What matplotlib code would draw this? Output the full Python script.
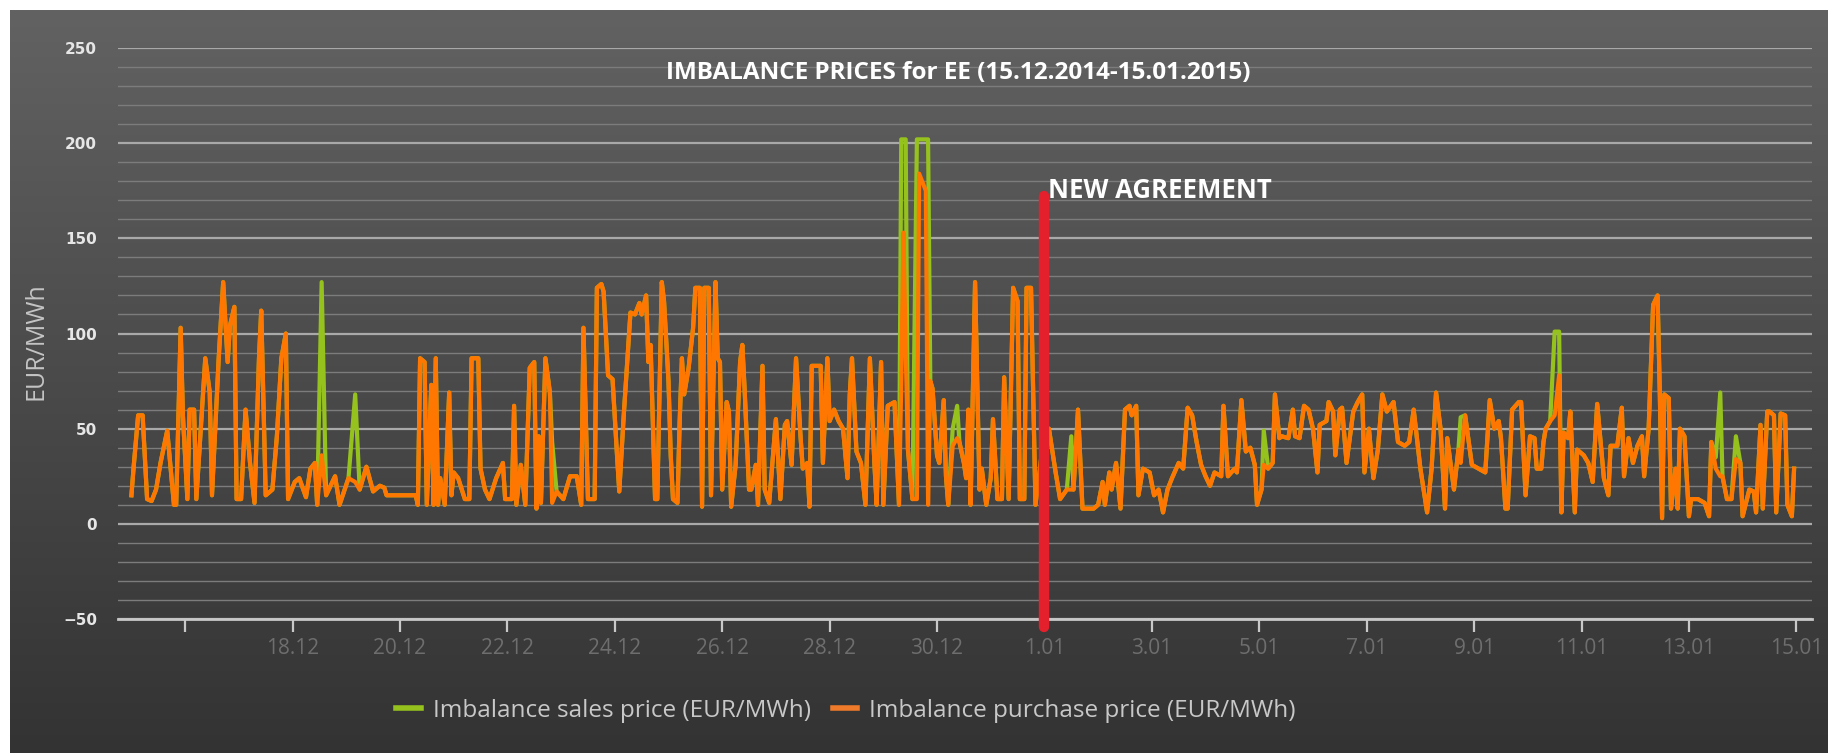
import matplotlib
matplotlib.use("Agg")
import matplotlib.pyplot as plt
import matplotlib.transforms as mtransforms
from matplotlib.colors import LinearSegmentedColormap
from matplotlib.lines import Line2D
from matplotlib.ticker import MultipleLocator
import numpy as np

# hours since 15.12.2014 00:00 (EUR/MWh)
hours = [
    0, 1, 3, 5, 7, 9, 11, 13, 16, 19, 20, 22, 23, 25, 26, 28, 29, 33, 35, 36,
    39, 41, 43, 44, 46, 47, 49, 51, 53, 55, 57, 58, 60, 63, 65, 67, 69, 70, 73, 75,
    78, 80, 82, 83, 85, 87, 91, 93, 97, 100, 102, 105, 108, 111, 113, 114, 127,
    128, 129, 131, 132, 134, 135, 136, 137, 138, 140, 142, 143, 144, 146, 149, 151, 152, 155,
    156, 158, 160, 163, 166, 167, 170, 171, 172, 174, 176, 178, 180, 181, 182, 183, 185, 187,
    188, 190, 193, 196, 199, 201, 202, 204, 207, 208, 210, 211, 213, 215, 217, 218, 220, 223,
    225, 227, 228, 230, 231, 232, 234, 235, 237, 238, 240, 241, 242, 244,
    245, 246, 247, 249, 251, 252, 254, 255, 256, 258, 259, 261, 262, 263, 264, 266, 267, 268,
    270, 272, 273, 274, 276, 277, 279, 280, 281, 282, 283, 285, 288, 290, 292, 293, 295, 297,
    299, 300, 302, 303, 304, 308, 309, 311, 312, 314, 316, 318, 320, 321, 322, 324, 326, 328,
    330, 332, 333, 335, 336, 338, 341, 343, 344, 345, 346, 347, 349, 351, 352, 355, 356, 357,
    358, 360, 361, 363, 364, 365, 367, 369,
    370, 372, 373, 374, 375, 377, 379, 380, 382, 384, 385, 387, 389, 390, 392, 394, 396, 397,
    399, 400, 402, 404, 406, 408, 410, 413, 415, 418, 420, 421, 423, 425, 430, 432, 434, 435,
    437, 438, 440, 442, 444, 446, 447, 449, 450, 452, 455, 457, 459, 461, 463, 465, 468, 470,
    472, 474, 476, 478, 480, 482, 484, 487, 488, 490, 493, 494, 496, 498, 500, 502, 503,
    505, 506, 508, 510, 511, 513, 514, 517, 519, 520, 522, 524, 526, 528, 530, 531, 534, 535,
    537, 538, 540, 541, 543, 546, 548, 550, 551, 553, 555, 557, 559, 561, 564, 566, 569, 571,
    573, 576, 579, 581, 583, 585, 587, 588, 591, 593, 594, 596, 599, 602, 605, 607, 609, 611,
    612, 614, 615, 617, 620, 621,
    623, 625, 627, 628, 630, 631, 632, 634, 636, 638, 639, 640, 642, 643, 645, 646, 649, 651,
    653, 655, 656, 658, 660, 661, 664, 666, 667, 669, 671, 673, 675, 676, 678, 680, 682, 683,
    684, 685, 687, 688, 690, 691, 692, 694, 696, 697, 700, 703, 705, 706, 708, 710, 711, 713,
    715, 717, 719, 720, 723, 725, 726, 728, 729, 731, 732, 734, 735, 737, 739, 740, 742, 743,
]
purchase = [
    15, 30, 57, 57, 13, 12, 18, 32, 49, 10, 10, 103, 57, 13, 60, 60, 13, 87, 69, 15,
    87, 127, 85, 104, 114, 13, 13, 60, 32, 11, 87, 112, 15, 18, 46, 87, 100, 13, 22, 24,
    14, 29, 32, 10, 36, 15, 25, 10, 24, 22, 18, 30, 17, 20, 19, 15, 15,
    10, 87, 85, 10, 73, 10, 87, 10, 24, 10, 69, 15, 27, 24, 13, 13, 87, 87,
    29, 18, 13, 24, 32, 13, 13, 62, 10, 31, 10, 82, 85, 8, 46, 11, 87, 69,
    11, 17, 13, 25, 25, 10, 103, 13, 13, 124, 126, 122, 78, 76, 36, 17, 57, 111,
    110, 116, 110, 120, 85, 94, 13, 13, 127, 117, 75, 36, 13, 11,
    54, 87, 68, 82, 103, 124, 124, 9, 124, 124, 15, 127, 87, 85, 18, 64, 59, 9,
    31, 85, 94, 71, 18, 18, 31, 10, 46, 83, 18, 11, 55, 13, 52, 54, 31, 87,
    46, 29, 32, 9, 83, 83, 32, 87, 54, 60, 54, 50, 24, 68, 87, 38, 32, 10,
    87, 32, 10, 85, 10, 62, 64, 10, 73, 153, 90, 39, 13, 13, 184, 175, 10, 75,
    71, 36, 32, 65, 25, 10, 41, 45,
    43, 32, 24, 60, 10, 127, 18, 29, 10, 24, 55, 13, 13, 77, 13, 124, 117, 13,
    13, 124, 124, 10, 29, 50, 50, 27, 13, 18, 18, 18, 60, 8, 8, 10, 22, 10,
    27, 18, 32, 8, 60, 62, 57, 62, 15, 29, 27, 15, 18, 6, 18, 24, 32, 29,
    61, 57, 43, 31, 25, 20, 27, 25, 62, 25, 29, 27, 65, 38, 40, 31, 10,
    18, 31, 29, 32, 68, 45, 46, 45, 60, 46, 45, 62, 60, 50, 27, 52, 54, 64,
    59, 36, 60, 61, 32, 59, 64, 68, 27, 50, 24, 39, 68, 59, 64, 43, 41, 43,
    60, 29, 6, 29, 69, 50, 8, 45, 18, 39, 32, 57, 31, 29, 27, 65, 50, 54,
    45, 8, 8, 60, 64, 64,
    15, 46, 45, 29, 29, 43, 50, 54, 57, 78, 6, 48, 45, 59, 6, 39, 36, 32,
    22, 63, 50, 24, 15, 41, 41, 61, 25, 45, 32, 41, 46, 25, 50, 115, 120, 68,
    3, 68, 66, 8, 29, 8, 50, 46, 4, 13, 13, 11, 4, 43, 29, 25, 25, 13,
    13, 34, 32, 4, 18, 17, 6, 52, 8, 59, 59, 57, 6, 58, 57, 10, 4, 29,
]
# hours where the sales price differs from the purchase price
sales_hours = [85, 100, 188, 344, 345, 346, 351, 352, 355, 356, 367, 369,
               420, 506, 594, 636, 638, 708, 710, 717]
sales_values = [127, 68, 43, 202, 202, 202, 202, 202, 202, 202, 50, 62,
                46, 49, 56, 101, 101, 35, 69, 46]

tick_hours = [24, 72, 120, 168, 216, 264, 312, 360, 408, 456, 504, 552, 600, 648, 696, 744]
tick_labels = ["", "18.12", "20.12", "22.12", "24.12", "26.12", "28.12", "30.12",
               "1.01", "3.01", "5.01", "7.01", "9.01", "11.01", "13.01", "15.01"]

agreement_hour = 408

sales = list(purchase)
for h, v in zip(sales_hours, sales_values):
    sales[hours.index(h)] = v

W, H = 1828, 753
fig = plt.figure(figsize=(W / 100, H / 100), dpi=100)
fig.patch.set_facecolor("white")

# dark gradient panel behind everything
bg = fig.add_axes([10 / W, 0, 1 - 10 / W, 1 - 10 / H], zorder=0)
grad = np.linspace(0, 1, 256).reshape(-1, 1)
bg.imshow(grad, aspect="auto", cmap=LinearSegmentedColormap.from_list("bg", ["#626262", "#4a4a4a", "#333333"]))
bg.axis("off")

ax = fig.add_axes([118 / W, 1 - 619 / H, (1812 - 118) / W, (619 - 48) / H], zorder=1)
ax.set_facecolor("none")
ax.set_xlim(-6, 751)
ax.set_ylim(-50, 250)

ax.plot(hours, sales, color="#96c21e", lw=3.0, zorder=3)
ax.plot(hours, purchase, color="#ff7600", lw=3.0, zorder=4)

ax.plot([agreement_hour, agreement_hour], [-54, 172], color="#e3202b", lw=7.5,
        solid_capstyle="round", zorder=5, clip_on=False)
ax.text(agreement_hour + 1.5, 175, "NEW AGREEMENT", color="white", fontsize=18.5,
        fontweight="bold", family="Open Sans", ha="left", va="center", zorder=6)

title_tr = mtransforms.blended_transform_factory(ax.transAxes, ax.transData)
ax.text(0.496, 237, "IMBALANCE PRICES for EE (15.12.2014-15.01.2015)", color="white",
        fontsize=17.5, fontweight="bold", family="Open Sans", ha="center", va="center",
        transform=title_tr)

ax.yaxis.set_major_locator(MultipleLocator(50))
ax.yaxis.set_minor_locator(MultipleLocator(10))
ax.grid(axis="y", which="major", color="#a9a9a9", lw=1.6)
ax.grid(axis="y", which="minor", color="#7c7c7c", lw=1.0)
ax.set_axisbelow(True)

for side in ["top", "right", "left"]:
    ax.spines[side].set_visible(False)
ax.spines["bottom"].set_color("#c8c8c8")
ax.spines["bottom"].set_linewidth(2)

ax.tick_params(axis="y", which="both", length=0, pad=15, labelcolor="#e6e6e6", labelsize=11)
for lab in ax.get_yticklabels():
    lab.set_fontweight("bold")

ax.set_xticks(tick_hours)
ax.set_xticklabels(tick_labels, family="Open Sans")
ax.tick_params(axis="x", length=9, width=1.6, color="#c8c8c8", labelcolor="#6e6e6e",
               labelsize=15, pad=5)

fig.text(36 / W, 1 - 341 / H, "EUR/MWh", rotation=90, color="#c4c4c4", fontsize=18,
         family="Open Sans", ha="center", va="center")

handles = [Line2D([], [], color="#96c21e", lw=4), Line2D([], [], color="#ee7a2a", lw=4)]
fig.legend(handles, ["Imbalance sales price (EUR/MWh)", "Imbalance purchase price (EUR/MWh)"],
           loc="center", bbox_to_anchor=(846 / W, 1 - 711 / H), ncol=2, frameon=False,
           labelcolor="#c8c8c8", prop={"family": "Open Sans", "size": 17.5},
           handlelength=1.0, handletextpad=0.5, columnspacing=0.9)

fig.savefig("out.png", dpi=100, facecolor="white")
